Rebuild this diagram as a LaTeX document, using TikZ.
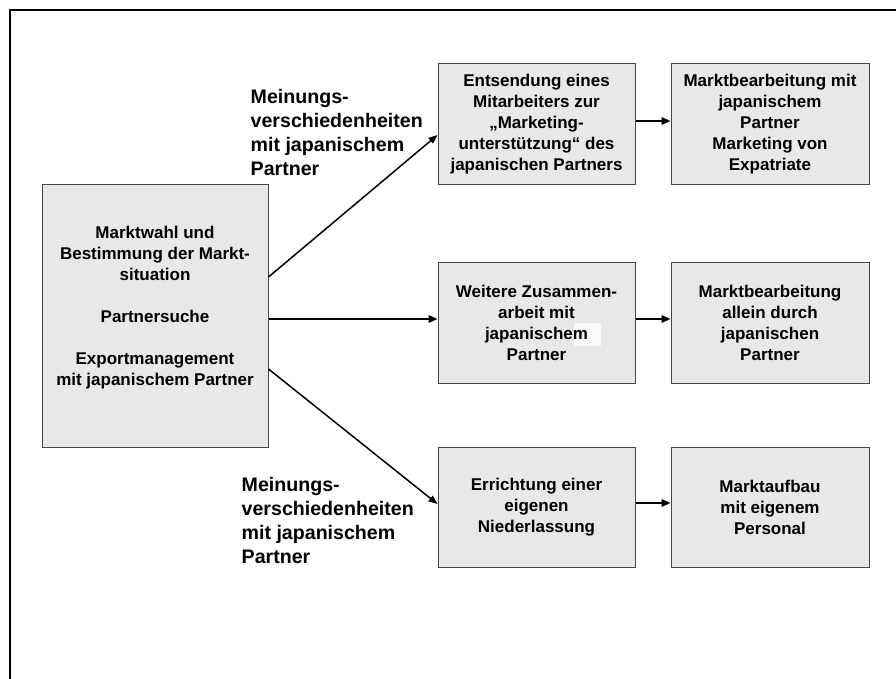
\documentclass[tikz,border=0pt]{standalone}
\usepackage{fontspec}
\setmainfont{Liberation Sans}
\usetikzlibrary{arrows.meta,calc}
\begin{document}
\begin{tikzpicture}[x=1pt,y=-1pt,
  boxshape/.style={draw=black!72, fill=gray!18, line width=1pt, inner sep=0pt},
  box/.style={boxshape, align=center, font=\bfseries\fontsize{17}{21}\selectfont},
  boxtext/.style={inner sep=0pt, align=center, font=\bfseries\fontsize{17}{21}\selectfont},
  mbox/.style={minimum width=197pt, minimum height=121pt},
  rbox/.style={minimum width=198pt, minimum height=121pt},
  lbl/.style={align=left, inner sep=0pt, anchor=west, font=\bfseries\fontsize{19.6}{24}\selectfont},
  arr/.style={line width=2pt, -{Triangle[length=9pt,width=7.5pt]}},
  darr/.style={line width=1.5pt, -{Triangle[length=9pt,width=7pt]}},
  outerframe/.style={line width=2.3pt}]
\useasboundingbox (0,0) rectangle (896,679);
\draw[outerframe] (10.2,679) -- (10.2,10.3) -- (896,10.3);

\node[box, minimum width=226pt, minimum height=262pt] (L) at (155,316)
  {Marktwahl und\\Bestimmung der Markt-\\situation\\[21pt]Partnersuche\\[21pt]Exportmanagement\\mit japanischem Partner\\~};

\node[box, mbox] (TM) at (536.5,124.5)
  {Entsendung eines\\Mitarbeiters zur\\\char"201E Marketing-\\unterst\"utzung\char"201C{} des\\japanischen Partners};
\node[box, rbox] (TR) at (770,124.5)
  {Marktbearbeitung mit\\japanischem\\Partner\\Marketing von\\Expatriate};

\node[boxshape, mbox] (MM) at (536.5,322.5) {};
\fill[gray!5] ($(MM.north west)+(136,61)$) rectangle ++(27,23);
\node[boxtext] (MMt) at (MM.center) {Weitere Zusammen-\\arbeit mit\\japanischem\\Partner};
\node[box, rbox] (MR) at (770,322.5)
  {Marktbearbeitung\\allein durch\\japanischen\\Partner};

\node[box, mbox, minimum height=120pt] (BM) at (536.5,507)
  {Errichtung einer\\eigenen\\Niederlassung};
\node[box, rbox, minimum height=120pt] (BR) at (770,507)
  {Marktaufbau\\mit eigenem\\Personal};

\node[lbl] (LT) at (250.5,132) {Meinungs-\\verschiedenheiten\\mit japanischem\\Partner};
\node[lbl] (LB) at (241.5,520.5) {Meinungs-\\verschiedenheiten\\mit japanischem\\Partner};

\coordinate (ms) at ([yshift=-3pt]L.east);
\draw[darr] ([yshift=39pt]L.east) -- ([yshift=-10.5pt]TM.west);
\draw[arr] (ms) -- (ms -| MM.west);
\draw[darr] ([yshift=-53pt]L.east) -- ([yshift=3pt]BM.west);

\draw[arr] ([yshift=3.5pt]TM.east) -- ([yshift=3.5pt]TR.west);
\draw[arr] ([yshift=3.5pt]MM.east) -- ([yshift=3.5pt]MR.west);
\draw[arr] ([yshift=4pt]BM.east) -- ([yshift=4pt]BR.west);
\end{tikzpicture}
\end{document}
